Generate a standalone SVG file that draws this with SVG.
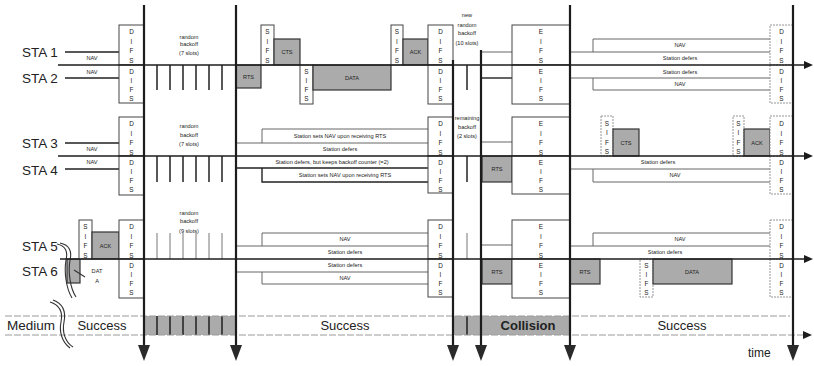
<svg xmlns="http://www.w3.org/2000/svg" width="814" height="366" viewBox="0 0 814 366">
<style>
  .ax{stroke:#1c1c1c;stroke-width:1.6;fill:none}
  .vl{stroke:#1c1c1c;stroke-width:2.2;fill:none}
  .bx{fill:#fff;stroke:#444;stroke-width:1}
  .bxd{fill:#fff;stroke:#8a8a8a;stroke-width:0.9;stroke-dasharray:2 1}
  .gr{fill:#ababab;stroke:#333;stroke-width:1.2}
  .nav{stroke:#666;stroke-width:1;fill:none}
  .navk{stroke:#222;stroke-width:1.4;fill:none}
  .tk{stroke:#222;stroke-width:1.5}
  .tkl{stroke:#777;stroke-width:1}
  .md{stroke:#9a9a9a;stroke-width:1;stroke-dasharray:7 2;fill:none}
  .brk{stroke:#333;stroke-width:1.1;fill:none}
  text{font-family:"Liberation Sans",Arial,Helvetica,sans-serif;fill:#222}
  .t{font-size:5.6px;text-anchor:middle}
  .v{font-size:6.4px;text-anchor:middle}
  .lb{font-size:13.5px}
  .big{font-size:13px;text-anchor:middle}
</style>
<defs>
  <marker id="down" markerUnits="userSpaceOnUse" markerWidth="16" markerHeight="12" refX="1" refY="6" orient="auto" viewBox="0 0 16 12">
    <path d="M0,0 L16,6 L0,12 z" fill="#2a2a2a"/>
  </marker>
  <marker id="right" markerUnits="userSpaceOnUse" markerWidth="9" markerHeight="8" refX="1" refY="4" orient="auto" viewBox="0 0 9 8">
    <path d="M0,0 L9,4 L0,8 z" fill="#1c1c1c"/>
  </marker>
</defs>
<rect width="814" height="366" fill="#fff"/>

<!-- medium band -->
<g id="medium">
  <rect x="144" y="316" width="92" height="19" fill="#ababab"/>
  <rect x="453" y="316" width="117" height="19" fill="#ababab"/>
  <path class="tk" d="M157,316V335M170,316V335M183,316V335M196,316V335M209,316V335M222,316V335M467,316V335"/>
  <path class="md" d="M5,316H790"/>
  <path class="md" d="M5,335H804" marker-end="url(#right)"/>
  <text class="lb" x="7" y="330">Medium</text>
  <path class="brk" d="M50,302 C60,305 63,312 61,322 C59,332 62,342 70,348"/>
  <path class="brk" d="M53,300 C64,304 66,312 64,322 C62,332 65,342 73,347"/>
  <text class="big" x="102" y="330">Success</text>
  <text class="big" x="345" y="330">Success</text>
  <text class="big" x="528" y="330" font-weight="bold">Collision</text>
  <text class="big" x="682" y="330">Success</text>
  <text x="748" y="357" font-size="12">time</text>
</g>

<!-- STA 1 / STA 2 -->
<g id="sta12">
  <text class="lb" x="22" y="57">STA 1</text>
  <text class="lb" x="22" y="83">STA 2</text>
  <path class="navk" d="M65,52H119M65,78H119"/>
  <text class="t" x="92" y="60">NAV</text>
  <text class="t" x="92" y="74">NAV</text>
  <rect class="bx" x="119" y="25" width="25" height="40"/>
  <rect class="bx" x="119" y="65" width="25" height="38"/>
  <text class="v" x="131.5 131.5 131.5 131.5" y="34 43.5 53 62.5">DIFS</text>
  <text class="v" x="131.5 131.5 131.5 131.5" y="73.5 82.5 91.5 100.5">DIFS</text>
  <text class="t" x="189" y="39">random</text>
  <text class="t" x="189" y="46">backoff</text>
  <text class="t" x="189" y="55">(7 slots)</text>
  <path class="tk" d="M157,65V90M170,65V90M183,65V90M196,65V90M209,65V90M222,65V90"/>
  <rect class="gr" x="236" y="65" width="25" height="23"/>
  <text class="t" x="248.5" y="79">RTS</text>
  <rect class="bx" x="261" y="25" width="13" height="40"/>
  <text class="v" x="267.5 267.5 267.5 267.5" y="34 43.5 53 62.5">SIFS</text>
  <rect class="gr" x="274" y="39" width="26" height="26"/>
  <text class="t" x="287" y="54">CTS</text>
  <rect class="bx" x="300" y="65" width="13" height="39"/>
  <text class="v" x="306.5 306.5 306.5 306.5" y="73.5 82.5 91.5 100.5">SIFS</text>
  <rect class="gr" x="313" y="65" width="78" height="25"/>
  <text class="t" x="352" y="80">DATA</text>
  <rect class="bx" x="391" y="25" width="12" height="40"/>
  <text class="v" x="397 397 397 397" y="34 43.5 53 62.5">SIFS</text>
  <rect class="gr" x="403" y="39" width="25" height="26"/>
  <text class="t" x="415.5" y="54">ACK</text>
  <rect class="bx" x="428" y="25" width="25" height="40"/>
  <rect class="bx" x="428" y="65" width="25" height="39"/>
  <text class="v" x="440.5 440.5 440.5 440.5" y="34 43.5 53 62.5">DIFS</text>
  <text class="v" x="440.5 440.5 440.5 440.5" y="73.5 82.5 91.5 100.5">DIFS</text>
  <text class="t" x="467" y="17">new</text>
  <text class="t" x="467" y="27">random</text>
  <text class="t" x="467" y="35">backoff</text>
  <text class="t" x="467" y="45">(10 slots)</text>
  <path class="tk" d="M467,65V90"/>
  <path class="nav" d="M481,52H512"/>
  <path class="navk" d="M481,78H512"/>
  <rect class="bx" x="512" y="25" width="58" height="40"/>
  <rect class="bx" x="512" y="65" width="58" height="39"/>
  <text class="v" x="541 541 541 541" y="34 43.5 53 62.5">EIFS</text>
  <text class="v" x="541 541 541 541" y="73.5 82.5 91.5 100.5">EIFS</text>
  <path class="nav" d="M593,52V39H770M570,52H770M570,78H770M593,78V90H770"/>
  <text class="t" x="680" y="47">NAV</text>
  <text class="t" x="680" y="60">Station defers</text>
  <text class="t" x="680" y="74">Station defers</text>
  <text class="t" x="680" y="86">NAV</text>
  <rect class="bxd" x="770" y="25" width="23" height="40"/>
  <rect class="bxd" x="770" y="65" width="23" height="38"/>
  <text class="v" x="781.5 781.5 781.5 781.5" y="34 43.5 53 62.5">DIFS</text>
  <text class="v" x="781.5 781.5 781.5 781.5" y="73.5 82.5 91.5 100.5">DIFS</text>
</g>

<!-- STA 3 / STA 4 -->
<g id="sta34">
  <text class="lb" x="22" y="148">STA 3</text>
  <text class="lb" x="22" y="175">STA 4</text>
  <path class="navk" d="M65,143H119M65,169H119"/>
  <text class="t" x="92" y="151">NAV</text>
  <text class="t" x="92" y="164">NAV</text>
  <rect class="bx" x="119" y="117" width="25" height="39"/>
  <rect class="bx" x="119" y="156" width="25" height="39"/>
  <text class="v" x="131.5 131.5 131.5 131.5" y="126 135.5 145 154.5">DIFS</text>
  <text class="v" x="131.5 131.5 131.5 131.5" y="164.5 173.5 182.5 191.5">DIFS</text>
  <text class="t" x="189" y="128">random</text>
  <text class="t" x="189" y="137">backoff</text>
  <text class="t" x="189" y="146">(7 slots)</text>
  <path class="tk" d="M157,156V182M170,156V182M183,156V182M196,156V182M209,156V182M222,156V182"/>
  <path class="nav" d="M262,143V129H428M236,143H428"/>
  <text class="t" x="340" y="138">Station sets NAV upon receiving RTS</text>
  <text class="t" x="340" y="151">Station defers</text>
  <path class="navk" d="M236,168H428M262,168V182H428"/>
  <text class="t" x="332" y="164">Station defers, but keeps backoff counter (=2)</text>
  <text class="t" x="345" y="177">Station sets NAV upon receiving RTS</text>
  <rect class="bx" x="428" y="117" width="25" height="39"/>
  <rect class="bx" x="428" y="156" width="25" height="37"/>
  <text class="v" x="440.5 440.5 440.5 440.5" y="126 135.5 145 154.5">DIFS</text>
  <text class="v" x="440.5 440.5 440.5 440.5" y="164.5 173.5 182.5 191.5">DIFS</text>
  <text class="t" x="467" y="120">remaining</text>
  <text class="t" x="467" y="129">backoff</text>
  <text class="t" x="467" y="138">(2 slots)</text>
  <path class="tk" d="M467,156V182"/>
  <path class="nav" d="M481,142H512"/>
  <rect class="gr" x="482" y="156" width="30" height="26"/>
  <text class="t" x="497" y="171">RTS</text>
  <rect class="bx" x="512" y="117" width="58" height="39"/>
  <rect class="bx" x="512" y="156" width="58" height="38" stroke-width="1.4"/>
  <text class="v" x="541 541 541 541" y="126 135.5 145 154.5">EIFS</text>
  <text class="v" x="541 541 541 541" y="164.5 173.5 182.5 191.5">EIFS</text>
  <rect class="bxd" x="601" y="116" width="12" height="40"/>
  <text class="v" x="607 607 607 607" y="125.5 135 144.5 154">SIFS</text>
  <rect class="gr" x="613" y="129" width="26" height="27"/>
  <text class="t" x="626" y="145">CTS</text>
  <rect class="bxd" x="733" y="116" width="11" height="40"/>
  <text class="v" x="738.5 738.5 738.5 738.5" y="125.5 135 144.5 154">SIFS</text>
  <rect class="gr" x="744" y="129" width="26" height="27"/>
  <text class="t" x="757" y="145">ACK</text>
  <path class="nav" d="M570,169H770M593,169V182H770"/>
  <text class="t" x="658" y="164">Station defers</text>
  <text class="t" x="675" y="177">NAV</text>
  <rect class="bxd" x="770" y="116" width="23" height="40"/>
  <rect class="bxd" x="770" y="156" width="23" height="38"/>
  <text class="v" x="781.5 781.5 781.5 781.5" y="126 135.5 145 154.5">DIFS</text>
  <text class="v" x="781.5 781.5 781.5 781.5" y="164.5 173.5 182.5 191.5">DIFS</text>
</g>

<!-- STA 5 / STA 6 -->
<g id="sta56">
  <text class="lb" x="22" y="251">STA 5</text>
  <text class="lb" x="22" y="276">STA 6</text>
  <rect class="gr" x="67" y="259" width="13" height="24"/>
  <path class="brk" d="M57,244 C66,246 68,252 66,260 C64,272 66,288 72,298"/>
  <path class="brk" d="M60,243 C70,245 72,252 70,260 C68,272 70,288 76,297"/>
  <path class="brk" d="M74,270L85,277"/>
  <text class="t" x="97" y="273">DAT</text>
  <text class="t" x="97" y="283">A</text>
  <rect class="bx" x="79" y="220" width="13" height="39"/>
  <text class="v" x="85.5 85.5 85.5 85.5" y="229 238.5 248 257.5">SIFS</text>
  <rect class="gr" x="92" y="232" width="27" height="27"/>
  <text class="t" x="105.5" y="248">ACK</text>
  <rect class="bx" x="119" y="220" width="25" height="39"/>
  <rect class="bx" x="119" y="259" width="25" height="39"/>
  <text class="v" x="131.5 131.5 131.5 131.5" y="229 238.5 248 257.5">DIFS</text>
  <text class="v" x="131.5 131.5 131.5 131.5" y="267.5 276.5 285.5 294.5">DIFS</text>
  <text class="t" x="189" y="215">random</text>
  <text class="t" x="189" y="223">backoff</text>
  <text class="t" x="189" y="233">(9 slots)</text>
  <path class="tkl" d="M157,233V259M170,233V259M183,233V259M196,233V259M209,233V259M222,233V259"/>
  <path class="nav" d="M262,246V233H428M236,246H428M236,272H428M262,272V284H428"/>
  <text class="t" x="345" y="241">NAV</text>
  <text class="t" x="345" y="254">Station defers</text>
  <text class="t" x="345" y="267">Station defers</text>
  <text class="t" x="345" y="280">NAV</text>
  <rect class="bx" x="428" y="220" width="25" height="39"/>
  <rect class="bx" x="428" y="259" width="25" height="38"/>
  <text class="v" x="440.5 440.5 440.5 440.5" y="229 238.5 248 257.5">DIFS</text>
  <text class="v" x="440.5 440.5 440.5 440.5" y="267.5 276.5 285.5 294.5">DIFS</text>
  <path class="tkl" d="M467,233V259"/>
  <path class="nav" d="M481,245H512"/>
  <rect class="gr" x="482" y="259" width="30" height="25"/>
  <text class="t" x="497" y="274">RTS</text>
  <rect class="bx" x="512" y="220" width="58" height="39"/>
  <rect class="bx" x="512" y="259" width="58" height="39"/>
  <text class="v" x="541 541 541 541" y="229 238.5 248 257.5">EIFS</text>
  <text class="v" x="541 541 541 541" y="267.5 276.5 285.5 294.5">EIFS</text>
  <path class="nav" d="M593,246V233H770M570,246H770"/>
  <text class="t" x="680" y="241">NAV</text>
  <text class="t" x="665" y="254">Station defers</text>
  <rect class="gr" x="570" y="259" width="30" height="25"/>
  <text class="t" x="585" y="274">RTS</text>
  <rect class="bxd" x="640" y="259" width="13" height="38"/>
  <text class="v" x="646.5 646.5 646.5 646.5" y="267.5 276.5 285.5 294.5">SIFS</text>
  <rect class="gr" x="653" y="259" width="79" height="25"/>
  <text class="t" x="692" y="274">DATA</text>
  <rect class="bxd" x="770" y="220" width="23" height="39"/>
  <rect class="bxd" x="770" y="259" width="23" height="38"/>
  <text class="v" x="781.5 781.5 781.5 781.5" y="229 238.5 248 257.5">DIFS</text>
  <text class="v" x="781.5 781.5 781.5 781.5" y="267.5 276.5 285.5 294.5">DIFS</text>
</g>

<!-- time axes and event markers -->
<g id="connectors">
  <path class="ax" d="M58,65H805" marker-end="url(#right)"/>
  <path class="ax" d="M58,156H805" marker-end="url(#right)"/>
  <path class="ax" d="M60,259H805" marker-end="url(#right)"/>
  <path class="vl" d="M144,5V346" marker-end="url(#down)"/>
  <path class="vl" d="M236,5V346" marker-end="url(#down)"/>
  <path class="vl" d="M453,60V346" marker-end="url(#down)"/>
  <path class="vl" d="M481,50V346" marker-end="url(#down)"/>
  <path class="vl" d="M570,5V346" marker-end="url(#down)"/>
  <path class="vl" d="M793,5V346" marker-end="url(#down)"/>
</g>
</svg>
